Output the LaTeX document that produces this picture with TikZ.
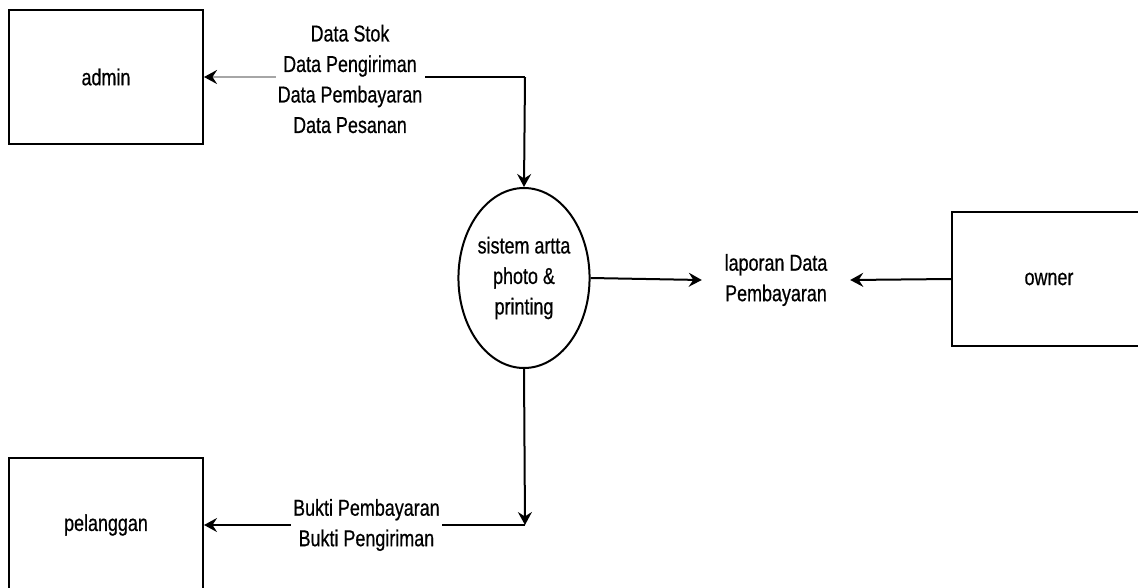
\documentclass[tikz,border=0pt]{standalone}
\usepackage{fontspec}
\setmainfont{Liberation Sans}[FakeStretch=0.78,FakeBold=0.6]
\usetikzlibrary{arrows.meta,shapes.geometric}
\begin{document}
\begin{tikzpicture}[x=1pt,y=-1pt,
  font=\fontsize{23}{30.5}\selectfont,
  entity/.style={draw, line width=2pt, minimum width=194pt, minimum height=134pt, inner sep=0pt},
  proc/.style={draw, ellipse, line width=2pt, minimum width=130pt, minimum height=180pt, inner sep=0pt, align=center},
  flowlabel/.style={fill=white, align=center, inner sep=2pt},
  tip/.style={-{Stealth[length=13pt,width=14pt,inset=4.5pt,#1]}},
  flow/.style={line width=2pt, tip=black},
  plain/.style={line width=2pt}]
\useasboundingbox (0,0) rectangle (1138,587);
\fill[white] (0,0) rectangle (1138,587);

\node[entity] (admin) at (106,77) {admin};
\node[entity] (pel) at (106,525) {pelanggan};
\node[entity] (owner) at (1049,279) {owner};
\node[proc] (sys) at (524,278) {sistem artta\\photo \&\\printing};
\node[align=center, minimum width=148pt, inner sep=0pt] (lap) at (776,280) {laporan Data\\Pembayaran};

\coordinate (c1) at (525,77);
\coordinate (c2) at (525,525);

% top: process <-> admin
\node[flowlabel] (ltop) at (350,79) {Data Stok\\Data Pengiriman\\Data Pembayaran\\Data Pesanan};
\draw[flow] (c1) -- (sys.north);
\draw[plain] (c1) -- (ltop.east |- c1);
\draw[line width=2.8pt, draw=gray!70, tip=black] (ltop.west |- c1) -- (admin.east);

% right
\draw[flow] (sys.east) -- (lap.west);
\draw[flow] (owner.west) -- (lap.east);

% bottom
\draw[flow] (sys.south) -- (c2);
\draw[flow] (c2) -- node[flowlabel, pos=0.494] (lbot) {Bukti Pembayaran\\Bukti Pengiriman} (pel.east);
\end{tikzpicture}
\end{document}
